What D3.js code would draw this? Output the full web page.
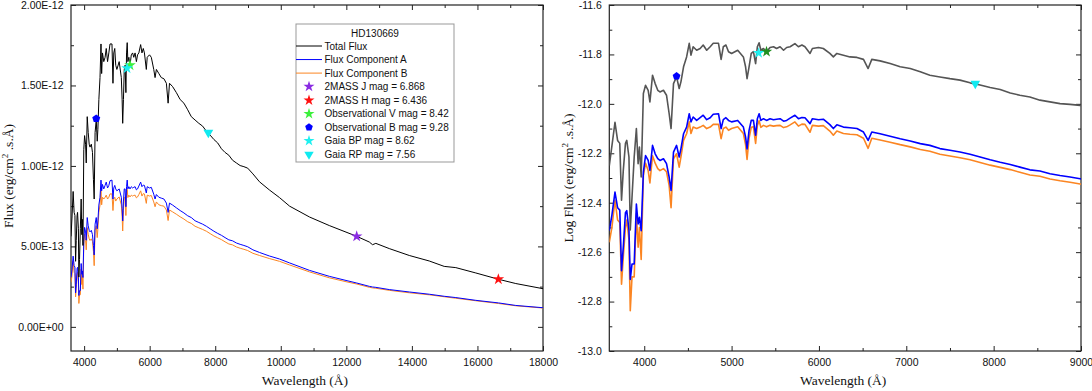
<!DOCTYPE html>
<html>
<head>
<meta charset="utf-8">
<script src="https://cdn.jsdelivr.net/npm/d3@7"></script>
<style>
  body { margin: 0; background: #fff; }
  svg text { font-family: "Liberation Sans", Arial, sans-serif; fill: #111; }
  .axis-title { font-family: "Liberation Serif", "Times New Roman", serif; font-size: 13.5px; }
</style>
</head>
<body>
<svg id="chart" width="1092" height="391"></svg>
<script>
// Wavelength grid (Angstrom) and log10 flux (erg/cm2/s/A)
var wavelength = [
  3600, 3630, 3665, 3695, 3720, 3740, 3760, 3785, 3800, 3825,
  3840, 3860, 3885, 3910, 3930, 3945, 3965, 3990, 4015, 4045,
  4065, 4095, 4125, 4155, 4180, 4220, 4255, 4285, 4307, 4335,
  4370, 4400, 4420, 4450, 4485, 4515, 4535, 4560, 4600, 4640,
  4675, 4715, 4755, 4790, 4850, 4880, 4905, 4935, 4965, 5000,
  5070, 5135, 5160, 5177, 5200, 5225, 5250, 5275, 5295, 5315,
  5335, 5365, 5400, 5440, 5480, 5515, 5555, 5595, 5630, 5670,
  5725, 5765, 5805, 5840, 5898, 5925, 5995, 6050, 6125, 6165,
  6205, 6280, 6355, 6435, 6510, 6563, 6605, 6700, 6815, 6930,
  7045, 7160, 7270, 7385, 7500, 7615, 7730, 7845, 7960, 8075,
  8190, 8300, 8415, 8530, 8645, 8760, 8875, 8990, 9150, 9350,
  9650, 9960, 10270, 10880, 11480, 11990, 12320, 12700, 12800, 12900,
  13310, 13920, 14530, 14985, 15340, 15950, 16640, 17170, 18000
];

var logTotal = [
  -12.25, -12.17, -12.075, -12.148, -12.16, -12.39, -12.27, -12.16, -12.148, -12.215,
  -12.51, -12.378, -12.215, -12.10, -12.242, -12.175, -12.296, -11.958, -11.925, -11.945,
  -11.992, -11.884, -11.918, -11.945, -11.952, -11.945, -11.965, -12.039, -12.10, -11.918,
  -11.891, -11.938, -11.911, -11.85, -11.81, -11.755, -11.803, -11.769, -11.783, -11.776,
  -11.762, -11.783, -11.769, -11.755, -11.755, -11.82, -11.769, -11.762, -11.789, -11.796,
  -11.783, -11.81, -11.85, -11.898, -11.85, -11.796, -11.789, -11.837, -11.769, -11.753,
  -11.783, -11.776, -11.789, -11.772, -11.769, -11.776, -11.769, -11.783, -11.772, -11.769,
  -11.756, -11.769, -11.762, -11.769, -11.796, -11.776, -11.772, -11.776, -11.796, -11.81,
  -11.796, -11.803, -11.81, -11.812, -11.82, -11.857, -11.82, -11.826, -11.837, -11.85,
  -11.857, -11.87, -11.884, -11.891, -11.898, -11.904, -11.915, -11.924, -11.934, -11.942,
  -11.956, -11.965, -11.972, -11.985, -11.992, -11.999, -12.002, -12.006, -12.022, -12.045,
  -12.07, -12.095, -12.125, -12.166, -12.201, -12.23, -12.25, -12.278, -12.292, -12.285,
  -12.313, -12.353, -12.388, -12.425, -12.434, -12.475, -12.529, -12.57, -12.625
];

var logCompA = [
  -12.513, -12.45, -12.357, -12.42, -12.43, -12.675, -12.58, -12.44, -12.432, -12.51,
  -12.71, -12.648, -12.648, -12.405, -12.486, -12.459, -12.513, -12.276, -12.209, -12.229,
  -12.269, -12.168, -12.202, -12.222, -12.229, -12.222, -12.242, -12.296, -12.35, -12.195,
  -12.168, -12.215, -12.182, -12.121, -12.094, -12.04, -12.073, -12.053, -12.067, -12.056,
  -12.046, -12.064, -12.056, -12.042, -12.04, -12.10, -12.064, -12.056, -12.067, -12.073,
  -12.067, -12.094, -12.134, -12.182, -12.107, -12.067, -12.067, -12.127, -12.06, -12.04,
  -12.067, -12.06, -12.067, -12.06, -12.064, -12.062, -12.06, -12.07, -12.067, -12.058,
  -12.046, -12.06, -12.055, -12.056, -12.08, -12.06, -12.064, -12.062, -12.084, -12.10,
  -12.085, -12.094, -12.097, -12.10, -12.114, -12.148, -12.114, -12.121, -12.131, -12.141,
  -12.15, -12.161, -12.168, -12.181, -12.188, -12.195, -12.204, -12.215, -12.226, -12.236,
  -12.245, -12.256, -12.267, -12.272, -12.283, -12.29, -12.296, -12.303, -12.32, -12.335,
  -12.356, -12.375, -12.401, -12.455, -12.503, -12.54, -12.565, -12.599, -12.606, -12.61,
  -12.635, -12.664, -12.693, -12.721, -12.74, -12.783, -12.827, -12.876, -12.925
];

var logCompB = [
  -12.56, -12.50, -12.39, -12.47, -12.48, -12.73, -12.62, -12.50, -12.47, -12.55,
  -12.837, -12.70, -12.70, -12.445, -12.58, -12.50, -12.63, -12.29, -12.24, -12.27,
  -12.32, -12.21, -12.24, -12.262, -12.27, -12.262, -12.275, -12.33, -12.42, -12.222,
  -12.202, -12.256, -12.215, -12.148, -12.121, -12.073, -12.12, -12.094, -12.10, -12.094,
  -12.087, -12.10, -12.094, -12.083, -12.083, -12.141, -12.10, -12.094, -12.107, -12.10,
  -12.093, -12.12, -12.165, -12.225, -12.14, -12.095, -12.093, -12.16, -12.087, -12.068,
  -12.095, -12.087, -12.093, -12.087, -12.09, -12.088, -12.087, -12.096, -12.093, -12.085,
  -12.073, -12.09, -12.082, -12.083, -12.115, -12.087, -12.09, -12.088, -12.11, -12.127,
  -12.11, -12.12, -12.123, -12.125, -12.139, -12.18, -12.139, -12.146, -12.155, -12.165,
  -12.174, -12.185, -12.192, -12.204, -12.211, -12.218, -12.226, -12.237, -12.248, -12.257,
  -12.266, -12.277, -12.288, -12.293, -12.304, -12.311, -12.317, -12.324, -12.34, -12.353,
  -12.372, -12.39, -12.415, -12.467, -12.516, -12.552, -12.575, -12.609, -12.616, -12.62,
  -12.644, -12.674, -12.701, -12.728, -12.75, -12.79, -12.838, -12.883, -12.932
];

// Photometric points
var photLabels = ["2MASS J mag = 6.868", "2MASS H mag = 6.436", "Observational V mag = 8.42",
                  "Observational B mag = 9.28", "Gaia BP mag = 8.62", "Gaia RP mag = 7.56"];
var photLambda = [12316, 16638, 5400, 4370, 5310, 7790];
var photLogFlux = [-12.250, -12.529, -11.789, -11.888, -11.794, -11.918];

var seriesLabels = ["Total Flux", "Flux Component A", "Flux Component B"];
var legendTitle = "HD130669";

// Tick values
var leftXTicks = [4000, 6000, 8000, 10000, 12000, 14000, 16000, 18000];
var leftYTicks = [0, 5e-13, 1e-12, 1.5e-12, 2e-12];
var rightXTicks = [4000, 5000, 6000, 7000, 8000, 9000];
var rightYTicks = [-13.0, -12.8, -12.6, -12.4, -12.2, -12.0, -11.8, -11.6];

// ---- styling ----
var photStyle = [
  {shape: "star", color: "#8a2be2"},
  {shape: "star", color: "#ff1010"},
  {shape: "star", color: "#3cf03c", colorRight: "#1f8f1f"},
  {shape: "pentagon", color: "#0000ff"},
  {shape: "star", color: "#1ff0f0"},
  {shape: "triangle", color: "#10eaf0"}
];
var lineColors = ["#000000", "#0000ff", "#fb8522"];

var spectrum = wavelength.map(function (w, i) {
  return {w: w, total: logTotal[i], a: logCompA[i], b: logCompB[i]};
});

var svg = d3.select("#chart");

var pentagon = {
  draw: function (context, size) {
    var r = Math.sqrt(size / 2.378);
    for (var i = 0; i < 5; i++) {
      var ang = -Math.PI / 2 + i * 2 * Math.PI / 5;
      var px = r * Math.cos(ang), py = r * Math.sin(ang);
      if (i === 0) context.moveTo(px, py); else context.lineTo(px, py);
    }
    context.closePath();
  }
};

function symbolPath(shape, size) {
  if (shape === "pentagon") return d3.symbol().type(pentagon).size(size)();
  if (shape === "triangle") return d3.symbol().type(d3.symbolTriangle).size(size)();
  return d3.symbol().type(d3.symbolStar).size(size)();
}

var fmtE = function (v) {
  if (Math.abs(v) < 1e-20) v = 0;
  return v.toExponential(2).replace(/e([+-])(\d)$/, "e$10$2").toUpperCase();
};

function drawPanel(p) {
  var x = d3.scaleLinear().domain(p.xDomain).range([p.left, p.right]);
  var y = d3.scaleLinear().domain(p.yDomain).range([p.bottom, p.top]);
  var g = svg.append("g").attr("class", "panel-" + p.id);

  var clipId = "clip-" + p.id;
  svg.append("clipPath").attr("id", clipId)
    .append("rect")
    .attr("x", p.left).attr("y", p.top)
    .attr("width", p.right - p.left).attr("height", p.bottom - p.top);

  // minor ticks
  var mk = function (axis, tv) {
    return axis.tickValues(tv).tickSizeInner(-3).tickSizeOuter(0).tickFormat("");
  };
  var xMinor = d3.range(p.xDomain[0] + (p.xMinorStart - p.xDomain[0]), p.xDomain[1] + 1, p.xMinorStep);
  var yMinor = d3.range(p.yMinorStart, p.yDomain[1] + p.yMinorStep / 10, p.yMinorStep);

  g.append("g").attr("transform", "translate(0," + p.bottom + ")").call(mk(d3.axisBottom(x), xMinor));
  g.append("g").attr("transform", "translate(0," + p.top + ")").call(mk(d3.axisTop(x), xMinor));
  g.append("g").attr("transform", "translate(" + p.left + ",0)").call(mk(d3.axisLeft(y), yMinor));
  g.append("g").attr("transform", "translate(" + p.right + ",0)").call(mk(d3.axisRight(y), yMinor));

  // major ticks
  g.append("g").attr("class", "xaxis")
    .attr("transform", "translate(0," + p.bottom + ")")
    .call(d3.axisBottom(x).tickValues(p.xTicks).tickSizeInner(-5).tickSizeOuter(0).tickPadding(8).tickFormat(d3.format("d")));
  g.append("g").attr("transform", "translate(0," + p.top + ")")
    .call(d3.axisTop(x).tickValues(p.xTicks).tickSizeInner(-5).tickSizeOuter(0).tickFormat(""));
  g.append("g").attr("class", "yaxis")
    .attr("transform", "translate(" + p.left + ",0)")
    .call(d3.axisLeft(y).tickValues(p.yTicks).tickSizeInner(-5).tickSizeOuter(0).tickPadding(7.5).tickFormat(p.yFormat));
  g.append("g").attr("transform", "translate(" + p.right + ",0)")
    .call(d3.axisRight(y).tickValues(p.yTicks).tickSizeInner(-5).tickSizeOuter(0).tickFormat(""));

  g.selectAll(".domain").remove();
  g.selectAll(".tick line").attr("stroke", "#222").attr("stroke-width", 1);
  g.selectAll(".tick text").style("font-size", "10.5px").attr("fill", "#111");

  g.append("rect")
    .attr("x", p.left).attr("y", p.top)
    .attr("width", p.right - p.left).attr("height", p.bottom - p.top)
    .attr("fill", "none").attr("stroke", "#222").attr("stroke-width", 1.2);

  // spectra
  var data = spectrum.filter(function (d) { return d.w <= p.xDomain[1] + 200; });
  var plot = g.append("g").attr("clip-path", "url(#" + clipId + ")");
  var keys = [["b", lineColors[2]], ["a", lineColors[1]], ["total", p.totalColor]];
  keys.forEach(function (k) {
    var line = d3.line()
      .x(function (d) { return x(d.w); })
      .y(function (d) { return y(p.yValue(d[k[0]])); });
    plot.append("path")
      .datum(data)
      .attr("fill", "none")
      .attr("stroke", k[1])
      .attr("stroke-width", p.lineWidth)
      .attr("stroke-linejoin", "round")
      .attr("d", line);
  });

  // photometry markers
  photLambda.forEach(function (w, i) {
    if (w < p.xDomain[0] || w > p.xDomain[1]) return;
    var st = photStyle[i];
    var col = (p.id === "right" && st.colorRight) ? st.colorRight : st.color;
    g.append("path")
      .attr("d", symbolPath(st.shape, p.markerSize))
      .attr("transform", "translate(" + x(w) + "," + y(p.yValue(photLogFlux[i])) + ")" +
        (st.shape === "triangle" ? " rotate(180)" : ""))
      .attr("fill", col);
  });

  // axis titles
  g.append("text").attr("class", "axis-title")
    .attr("x", (p.left + p.right) / 2 - 2).attr("y", 385)
    .attr("text-anchor", "middle")
    .text("Wavelength (Å)");

  var yt = g.append("text").attr("class", "axis-title")
    .attr("transform", "translate(" + p.yTitleX + "," + p.yTitleY + ") rotate(-90)")
    .attr("text-anchor", "middle");
  yt.append("tspan").text(p.yTitlePrefix + "(erg/cm");
  yt.append("tspan").attr("dy", -5).style("font-size", "9px").text("2");
  yt.append("tspan").attr("dy", 5).text(" .s.Å)");

  return {x: x, y: y};
}

drawPanel({
  id: "left",
  left: 71, right: 543, top: 5, bottom: 351,
  xDomain: [3600, 18000], yDomain: [-1.5e-13, 2e-12],
  xTicks: leftXTicks, yTicks: leftYTicks,
  xMinorStart: 5000, xMinorStep: 2000,
  yMinorStart: 2.5e-13, yMinorStep: 5e-13,
  yFormat: fmtE,
  yValue: function (v) { return Math.pow(10, v); },
  totalColor: "#000000", lineWidth: 1, markerSize: 42,
  yTitleX: 12.5, yTitleY: 176, yTitlePrefix: "Flux "
});

drawPanel({
  id: "right",
  left: 609.3, right: 1081, top: 5, bottom: 351,
  xDomain: [3600, 9000], yDomain: [-13, -11.6],
  xTicks: rightXTicks, yTicks: rightYTicks,
  xMinorStart: 4500, xMinorStep: 1000,
  yMinorStart: -12.9, yMinorStep: 0.2,
  yFormat: function (v) { return v.toFixed(1); },
  yValue: function (v) { return v; },
  totalColor: "#555555", lineWidth: 1.6, markerSize: 40,
  yTitleX: 572.5, yTitleY: 178, yTitlePrefix: "Log Flux "
});

// legend
var lg = svg.append("g").attr("class", "legend");
var lx = 296, ly = 24, lw = 158, lh = 138, rowH = 13.55, row0 = 46;
lg.append("rect").attr("x", lx).attr("y", ly).attr("width", lw).attr("height", lh)
  .attr("fill", "#fff").attr("stroke", "#999").attr("stroke-width", 1);
lg.append("text").attr("x", lx + lw / 2).attr("y", ly + 12.5)
  .attr("text-anchor", "middle").style("font-size", "10px").text(legendTitle);

seriesLabels.forEach(function (s, i) {
  var cy = row0 + i * rowH;
  lg.append("line").attr("x1", lx).attr("x2", lx + 26).attr("y1", cy).attr("y2", cy)
    .attr("stroke", lineColors[i]).attr("stroke-width", 1);
  lg.append("text").attr("x", lx + 28.5).attr("y", cy + 3.6).style("font-size", "10px").text(s);
});
photLabels.forEach(function (s, i) {
  var cy = row0 + (i + 3) * rowH;
  var st = photStyle[i];
  lg.append("path").attr("d", symbolPath(st.shape, 38))
    .attr("transform", "translate(" + (lx + 13) + "," + cy + ")" + (st.shape === "triangle" ? " rotate(180)" : ""))
    .attr("fill", st.color);
  lg.append("text").attr("x", lx + 28.5).attr("y", cy + 3.6).style("font-size", "10px").text(s);
});
</script>
</body>
</html>
